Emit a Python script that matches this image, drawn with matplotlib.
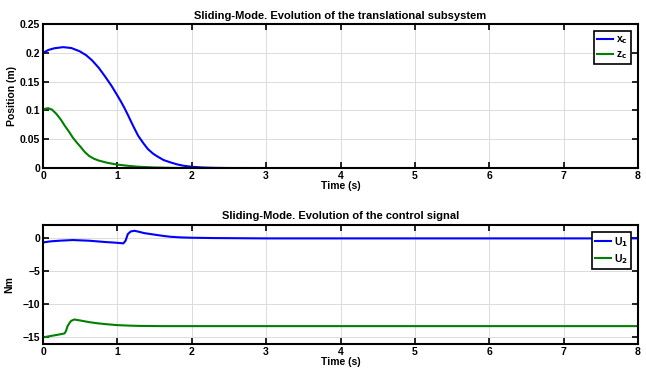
import matplotlib.pyplot as plt
import numpy as np

plt.rcParams['font.family'] = ['Liberation Sans', 'DejaVu Sans']
plt.rcParams['font.weight'] = 'bold'
plt.rcParams['font.size'] = 7.5

# translational subsystem
t_pos = [0, 0.07, 0.15, 0.27, 0.38, 0.49, 0.58, 0.66, 0.75, 0.84, 0.92, 1.0, 1.05, 1.1,
         1.15, 1.19, 1.24, 1.28, 1.35, 1.41, 1.48, 1.54, 1.62, 1.71, 1.8, 1.89, 2.0, 2.15,
         2.3, 2.5, 3, 8]
xc = [0.2, 0.205, 0.208, 0.21, 0.2085, 0.203, 0.196, 0.187, 0.174, 0.158, 0.143, 0.126,
      0.115, 0.103, 0.09, 0.079, 0.066, 0.056, 0.043, 0.033, 0.025, 0.02, 0.014, 0.01,
      0.0065, 0.004, 0.0022, 0.001, 0.0004, 0.0001, 0.0, 0.0]

t_z = [0, 0.03, 0.07, 0.12, 0.18, 0.24, 0.29, 0.35, 0.4, 0.45, 0.51, 0.56, 0.62, 0.68,
       0.75, 0.87, 1.0, 1.15, 1.28, 1.5, 1.75, 2.0, 8]
zc = [0.101, 0.103, 0.104, 0.1015, 0.094, 0.084, 0.074, 0.063, 0.053, 0.045, 0.036, 0.028,
      0.021, 0.0165, 0.013, 0.009, 0.006, 0.0038, 0.0023, 0.001, 0.0003, 0.0, 0.0]

# control signals
t_u1 = [0, 0.1, 0.22, 0.4, 0.62, 0.84, 0.98, 1.08, 1.11, 1.14, 1.18, 1.23, 1.29, 1.36,
        1.45, 1.54, 1.62, 1.71, 1.85, 2.0, 2.3, 3, 8]
u1 = [-0.66, -0.5, -0.4, -0.3, -0.4, -0.6, -0.7, -0.8, -0.4, 0.6, 1.0, 1.1, 0.95, 0.75,
      0.6, 0.45, 0.32, 0.2, 0.1, 0.05, 0.0, -0.05, -0.05]

t_u2 = [0, 0.1, 0.2, 0.29, 0.31, 0.33, 0.36, 0.38, 0.42, 0.5, 0.62, 0.73, 0.84, 1.0,
        1.15, 1.3, 1.6, 2.0, 8]
u2 = [-15.0, -14.8, -14.6, -14.4, -14.0, -13.3, -12.75, -12.5, -12.3, -12.45, -12.7,
      -12.87, -13.0, -13.15, -13.22, -13.27, -13.3, -13.3, -13.3]

blue = (0, 0, 1)
green = (0, 0.5, 0)

fig = plt.figure(figsize=(6.46, 3.71), dpi=100)
ax1 = fig.add_axes([0.0666, 0.547, 0.921, 0.388])
ax2 = fig.add_axes([0.0666, 0.0728, 0.921, 0.3212])


def style(ax):
    ax.set_xlim(0, 8)
    ax.set_xticks(range(9))
    ax.grid(True, color='#dcdcdc', linewidth=0.7)
    ax.tick_params(direction='in', top=True, right=True, length=4, width=1.2, pad=2)
    for s in ax.spines.values():
        s.set_linewidth(1.5)
    ax.set_xlabel('Time (s)', fontweight='bold', labelpad=0)


ax1.plot(t_pos, xc, color=blue, lw=1.5, label='x$_{\\mathbf{c}}$')
ax1.plot(t_z, zc, color=green, lw=1.5, label='z$_{\\mathbf{c}}$')
ax1.set_ylim(0, 0.25)
ax1.set_yticks([0, 0.05, 0.1, 0.15, 0.2, 0.25])
ax1.set_yticklabels(['0', '0.05', '0.1', '0.15', '0.2', '0.25'])
ax1.set_ylabel('Position (m)', fontweight='bold', labelpad=2)
ax1.set_title('Sliding-Mode. Evolution of the translational subsystem',
              fontweight='bold', fontsize=8, pad=4)
style(ax1)

ax2.plot(t_u1, u1, color=blue, lw=1.5, label='U$_{\\mathbf{1}}$')
ax2.plot(t_u2, u2, color=green, lw=1.5, label='U$_{\\mathbf{2}}$')
ax2.set_ylim(-16, 2)
ax2.set_yticks([-15, -10, -5, 0])
ax2.set_ylabel('Nm', fontweight='bold', labelpad=6)
ax2.set_title('Sliding-Mode. Evolution of the control signal',
              fontweight='bold', fontsize=8, pad=4)
style(ax2)

for ax in (ax1, ax2):
    leg = ax.legend(loc='upper right', handlelength=1.5, handletextpad=0.3,
                    borderpad=0.3, labelspacing=0.3, fancybox=False,
                    framealpha=1, edgecolor='black', fontsize=7.5,
                    bbox_to_anchor=(0.997, 0.985))
    leg.get_frame().set_linewidth(1.2)

fig.savefig('out.png', dpi=100)
